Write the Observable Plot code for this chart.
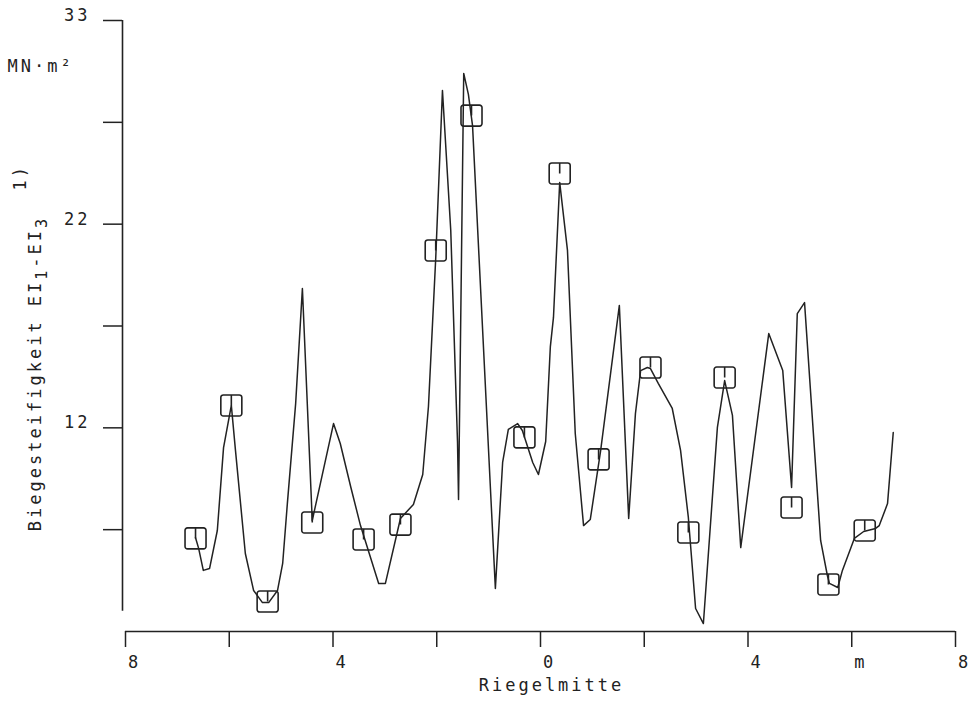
<!DOCTYPE html>
<html><head><meta charset="utf-8">
<script src="https://cdn.jsdelivr.net/npm/d3@7"></script>
<script src="https://cdn.jsdelivr.net/npm/@observablehq/plot@0.6"></script>
<style>
html,body{margin:0;padding:0;background:#fff;}
#chart svg text{letter-spacing:3px;}
</style></head><body><div id="chart"></div>
<script>
// Continuous curve (Riegel position in m, stiffness)
const lineX = [-6.65,-6.59,-6.50,-6.38,-6.23,-6.11,-5.96,-5.88,-5.69,-5.53,-5.36,-5.24,-5.07,-4.97,-4.88,-4.72,-4.59,-4.40,-3.99,-3.86,-3.66,-3.47,-3.12,-2.99,-2.70,-2.45,-2.27,-2.16,-2.02,-1.89,-1.73,-1.60,-1.58,-1.48,-1.39,-1.31,-0.87,-0.73,-0.62,-0.44,-0.35,-0.15,-0.04,0.10,0.19,0.25,0.37,0.52,0.67,0.83,0.96,1.16,1.52,1.70,1.83,1.93,2.06,2.12,2.27,2.54,2.70,2.85,2.99,3.14,3.41,3.55,3.70,3.86,4.40,4.67,4.84,4.95,5.09,5.40,5.53,5.57,5.73,5.82,6.05,6.23,6.46,6.53,6.69,6.80];
const lineY = [6.6,6.08,5.0,5.09,6.96,11.03,13.1,10.89,5.83,4.01,3.42,3.42,4.01,5.34,8.28,13.19,18.84,7.45,12.21,11.23,9.12,7.20,4.36,4.36,7.55,8.24,9.71,13.05,20.31,28.56,21.69,11.33,8.48,29.40,28.37,26.84,4.11,10.30,11.92,12.21,11.87,10.30,9.71,11.33,15.99,17.42,24.05,20.71,11.72,7.20,7.50,10.89,18.01,7.55,12.70,14.81,14.96,14.91,14.18,12.95,10.89,7.60,3.13,2.39,12.02,14.32,12.61,6.12,16.63,14.81,9.07,17.61,18.15,6.47,4.75,4.36,4.16,5.0,6.57,6.91,7.06,7.20,8.28,11.77];
// Square markers
const markX = [-6.65,-5.96,-5.26,-4.40,-3.41,-2.70,-2.02,-1.33,-0.31,0.37,1.12,2.12,2.85,3.55,4.84,5.55,6.25];
const markY = [6.57,13.10,3.47,7.35,6.52,7.25,20.71,27.33,11.53,24.49,10.45,14.96,6.86,14.47,8.09,4.31,6.96];
// Axes
const xTicks = [-8,-6,-4,-2,0,2,4,6,8];
const xTickLabels = ["8","","4","","0","","4","m","8"];
const yTicks = [7,12,17,22,27,32];
const yTickLabels = ["","12","","22","","33"];
const xDomain = [-8, 8];
const yDomain = [2, 32];
const yAxisSpan = [3, 32];
const xLabel = "Riegelmitte";
const yLabel = "Biegesteifigkeit EI1-EI3";
const yNote = "1)";
const unitLabel = "MN·m²";

const lineData = lineX.map((x, i) => ({x, y: lineY[i]}));
const markData = markX.map((x, i) => ({x, y: markY[i]}));

const ink = "#222";
const squareTick = {
  draw(ctx, size) {
    const h = Math.sqrt(size / Math.PI), c = 2.5;
    ctx.moveTo(-h + c, -h);
    ctx.lineTo(h - c, -h);
    ctx.arcTo(h, -h, h, -h + c, c);
    ctx.lineTo(h, h - c);
    ctx.arcTo(h, h, h - c, h, c);
    ctx.lineTo(-h + c, h);
    ctx.arcTo(-h, h, -h, h - c, c);
    ctx.lineTo(-h, -h + c);
    ctx.arcTo(-h, -h, -h + c, -h, c);
    ctx.closePath();
    ctx.moveTo(0, -h);
    ctx.lineTo(0, 0);
  }
};

const chart = Plot.plot({
  width: 973,
  height: 706,
  marginLeft: 125,
  marginRight: 18,
  marginTop: 20,
  marginBottom: 75,
  style: {fontFamily: "'DejaVu Sans Mono', monospace", fontSize: "17px", color: ink, background: "#fff"},
  x: {domain: xDomain, axis: null},
  y: {domain: yDomain, axis: null},
  marks: [
    Plot.ruleY([yDomain[0]], {stroke: ink, strokeWidth: 1.6}),
    Plot.ruleX([xDomain[0]], {y1: yAxisSpan[0], y2: yAxisSpan[1], stroke: ink, strokeWidth: 1.6, dx: -3}),
    Plot.axisX(xTicks, {tickSize: 16, tickFormat: () => "", label: null, stroke: ink, strokeWidth: 1.5}),
    Plot.axisX(xTicks, {tickSize: 0, tickPadding: 24, tickFormat: d => xTickLabels[xTicks.indexOf(d)], label: null, dx: 9, fill: ink}),
    Plot.axisY(yTicks, {tickSize: 19, tickFormat: () => "", label: null, stroke: ink, strokeWidth: 1.5, dx: -3}),
    Plot.axisY(yTicks, {tickSize: 0, tickPadding: 35, tickFormat: d => yTickLabels[yTicks.indexOf(d)], label: null, dy: -5, fill: ink}),
    Plot.line(lineData, {x: "x", y: "y", stroke: ink, strokeWidth: 1.5, strokeLinejoin: "round"}),
    Plot.dot(markData, {x: "x", y: "y", symbol: squareTick, r: 10.5, fill: "none", stroke: ink, strokeWidth: 1.6}),
    Plot.text([xLabel], {frameAnchor: "bottom", dx: 11, dy: 59, fill: ink}),
    Plot.text([yLabel], {frameAnchor: "top-left", rotate: -90, dx: -90, dy: 353, fill: ink, textAnchor: "middle", lineAnchor: "middle"}),
    Plot.text([yNote], {frameAnchor: "top-left", rotate: -90, dx: -112, dy: 170, fill: ink}),
    Plot.text([unitLabel], {frameAnchor: "top-left", dx: -118, dy: 39, textAnchor: "start", fill: ink})
  ]
});
document.getElementById("chart").appendChild(chart);

// subscripts in the y label
d3.select(chart).selectAll("text").filter(function() { return this.textContent === yLabel; }).each(function() {
  const t = d3.select(this);
  t.text(null);
  t.append("tspan").text("Biegesteifigkeit EI");
  t.append("tspan").attr("dy", 6).attr("font-size", "15px").text("1");
  t.append("tspan").attr("dy", -6).text("-EI");
  t.append("tspan").attr("dy", 6).attr("font-size", "15px").text("3");
});
</script></body></html>
